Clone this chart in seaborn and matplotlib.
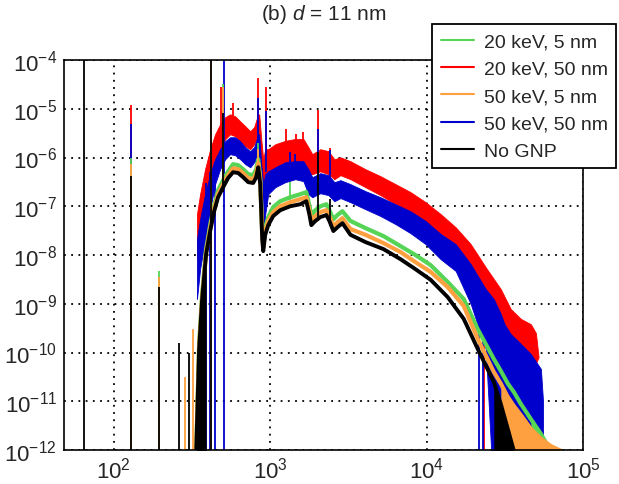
import numpy as np
import matplotlib
matplotlib.use("Agg")
import matplotlib.pyplot as plt
from matplotlib.lines import Line2D
from matplotlib.ticker import FixedLocator, LogLocator, NullFormatter
import seaborn as sns

# ---------- data (energy in eV) ----------

# No GNP (black), narrow line
nognp_e = [330, 351, 367, 389, 413, 438, 464, 500, 538, 579, 624, 671, 723, 778, 813,
           838, 863, 889, 902, 929, 971, 1045, 1159, 1343, 1557, 1701, 1778, 1832, 1944,
           2092, 2286, 2389, 2534, 2689, 2894, 3258, 4064, 5302, 6813, 8502, 10610,
           13630, 17270, 21230, 26880, 29810, 33050, 36120, 37500]
nognp_y = [1e-13, 1.18e-10, 1.25e-9, 1.04e-8, 3.1e-8, 7.9e-8, 1.53e-7, 2.46e-7, 3.8e-7,
           5.0e-7, 4.8e-7, 3.94e-7, 3.12e-7, 3.0e-7, 3.94e-7, 6.3e-7, 2.84e-7, 2.1e-8,
           1.2e-8, 2.6e-8, 4.1e-8, 6.3e-8, 8.3e-8, 1.0e-7, 1.1e-7, 1.27e-7, 6.9e-8, 4.1e-8,
           5.0e-8, 6.0e-8, 6.6e-8, 5.0e-8, 3.1e-8, 3.7e-8, 4.5e-8, 2.6e-8, 1.84e-8, 1.32e-8,
           8.2e-9, 5.1e-9, 3.1e-9, 1.37e-9, 4.9e-10, 1.18e-10, 2.5e-11, 8.8e-12, 2.7e-12,
           9.6e-13, 1e-13]

# 20 keV, 5 nm (green)
g20_e = [330, 351, 367, 389, 413, 438, 464, 500, 538, 579, 624, 671, 723, 778, 813,
         838, 863, 889, 902, 929, 971, 1045, 1159, 1343, 1557, 1701, 1778, 1832, 1944,
         2092, 2286, 2389, 2534, 2689, 2894, 3258, 4064, 5302, 6813, 8502, 10610,
         13630, 17270, 21230, 26880, 29810, 33050, 36120, 40060, 46420, 53800, 59650, 63000]
g20_y = [1e-13, 1.5e-10, 1.58e-9, 1.32e-8, 4.1e-8, 1.05e-7, 2.14e-7, 3.43e-7, 5.2e-7,
         7.3e-7, 6.95e-7, 5.75e-7, 4.55e-7, 4.34e-7, 5.75e-7, 9.2e-7, 3.94e-7, 3.1e-8,
         1.67e-8, 3.7e-8, 6.0e-8, 9.6e-8, 1.27e-7, 1.53e-7, 1.77e-7, 1.95e-7, 1.05e-7,
         6.6e-8, 8.3e-8, 1.0e-7, 1.1e-7, 8.3e-8, 5.4e-8, 6.6e-8, 7.9e-8, 5.0e-8, 3.56e-8,
         2.44e-8, 1.52e-8, 9.95e-9, 6.2e-9, 2.8e-9, 1.25e-9, 3.0e-10, 7.4e-11, 4.2e-11,
         2.3e-11, 1.55e-11, 8.8e-12, 4.3e-12, 2.14e-12, 1.2e-12, 1e-13]

# 50 keV, 5 nm (orange)
o50_e = [330, 351, 367, 389, 413, 438, 464, 500, 538, 579, 624, 671, 723, 778, 813,
         838, 863, 889, 902, 929, 971, 1045, 1159, 1343, 1557, 1701, 1778, 1832, 1944,
         2092, 2286, 2389, 2534, 2689, 2894, 3258, 4064, 5302, 6813, 8502, 10610,
         13630, 17270, 21230, 26880, 29810, 33050, 36120, 40060, 46420, 53800, 62370,
         72270, 76000]
o50_y = [1e-13, 1.3e-10, 1.37e-9, 1.15e-8, 3.56e-8, 9.1e-8, 1.77e-7, 2.84e-7, 4.34e-7,
         6.0e-7, 5.75e-7, 4.77e-7, 3.77e-7, 3.59e-7, 4.77e-7, 7.6e-7, 3.43e-7, 2.6e-8,
         1.38e-8, 3.1e-8, 5.0e-8, 7.6e-8, 1.0e-7, 1.21e-7, 1.40e-7, 1.53e-7, 8.3e-8, 5.2e-8,
         6.3e-8, 7.6e-8, 8.3e-8, 6.3e-8, 3.9e-8, 4.7e-8, 5.7e-8, 3.4e-8, 2.6e-8, 1.75e-8,
         1.15e-8, 7.1e-9, 4.5e-9, 2.2e-9, 9.0e-10, 1.9e-10, 4.0e-11, 2.3e-11, 1.22e-11,
         8.0e-12, 5.2e-12, 2.7e-12, 1.7e-12, 1.2e-12, 9.6e-13, 1e-13]

# 20 keV, 50 nm (red): noisy band, upper and lower edge
r20_e = [340, 356, 383, 413, 444, 478, 515, 554, 597, 643, 692, 745, 789, 826, 850, 876,
         902, 929, 971, 1077, 1248, 1446, 1629, 1753, 1858, 2092, 2355, 2573, 2812, 3258,
         4064, 5070, 6327, 7889, 9855, 12300, 15350, 19140, 23880, 29780, 34510, 40060,
         46420, 50000, 52000]
r20_hi = [6.9e-8, 1.77e-7, 5.75e-7, 1.48e-6, 3.0e-6, 4.8e-6, 6.7e-6, 7.7e-6, 7.0e-6,
          5.5e-6, 4.4e-6, 3.46e-6, 4.2e-6, 6.7e-6, 7.7e-6, 2.37e-6, 9.2e-7, 1.48e-6,
          1.48e-6, 1.87e-6, 2.2e-6, 2.4e-6, 2.4e-6, 1.63e-6, 1.17e-6, 1.48e-6, 1.35e-6,
          9.2e-7, 1.01e-6, 8.4e-7, 5.75e-7, 4.14e-7, 2.84e-7, 1.95e-7, 1.21e-7, 6.9e-8,
          3.7e-8, 1.67e-8, 5.6e-9, 2.0e-9, 7.8e-10, 4.9e-10, 3.8e-10, 2.5e-10, 8e-11]
r20_lo = [8.2e-9, 2.1e-8, 6.9e-8, 2.24e-7, 7.3e-7, 1.48e-6, 2.37e-6, 3.0e-6, 2.73e-6,
          2.16e-6, 1.7e-6, 1.48e-6, 1.87e-6, 2.6e-6, 1.87e-6, 2.24e-7, 3.4e-8, 1.40e-7,
          4.55e-7, 6.3e-7, 7.5e-7, 8.0e-7, 8.0e-7, 4.55e-7, 4.55e-7, 5.2e-7, 4.55e-7,
          3.59e-7, 4.34e-7, 3.59e-7, 2.46e-7, 1.69e-7, 1.10e-7, 7.6e-8, 4.3e-8, 2.44e-8,
          1.2e-8, 4.1e-9, 1.25e-9, 3.8e-10, 1.18e-10, 3.5e-11, 3.0e-11, 6e-11, 8e-11]

# 50 keV, 50 nm (blue): noisy band, upper and lower edge
b50_e = [340, 356, 383, 413, 444, 478, 515, 554, 597, 643, 692, 745, 789, 826, 850, 876,
         902, 929, 971, 1077, 1248, 1446, 1629, 1753, 1858, 2092, 2355, 2573, 2812, 3258,
         4064, 5070, 6327, 7889, 9855, 12300, 15350, 19140, 23880, 26880, 29780, 31500,
         34510, 40060, 46420, 53800, 55500]
b50_hi = [2.1e-8, 5.4e-8, 1.77e-7, 4.55e-7, 9.2e-7, 1.48e-6, 2.16e-6, 2.6e-6, 2.6e-6,
          2.16e-6, 1.63e-6, 1.35e-6, 1.63e-6, 2.6e-6, 3.0e-6, 7.3e-7, 2.84e-7, 4.55e-7,
          5.2e-7, 6.3e-7, 8.0e-7, 8.4e-7, 8.4e-7, 5.75e-7, 3.94e-7, 4.77e-7, 4.34e-7,
          3.12e-7, 3.43e-7, 2.84e-7, 2.04e-7, 1.53e-7, 1.10e-7, 7.9e-8, 5.0e-8, 2.7e-8,
          1.67e-8, 6.5e-9, 2.0e-9, 1.25e-9, 6.2e-10, 3.8e-10, 2.4e-10, 1.5e-10, 9.3e-11,
          4.6e-11, 1e-11]
b50_lo = [1.25e-9, 5.1e-9, 2.1e-8, 8.7e-8, 2.84e-7, 5.75e-7, 9.2e-7, 1.17e-6, 1.11e-6,
          9.2e-7, 7.3e-7, 6.3e-7, 8.0e-7, 9.2e-7, 5.75e-7, 6.9e-8, 1.67e-8, 6.9e-8,
          1.77e-7, 2.46e-7, 3.12e-7, 3.59e-7, 3.27e-7, 1.77e-7, 1.53e-7, 1.85e-7, 1.69e-7,
          1.27e-7, 1.47e-7, 1.21e-7, 8.7e-8, 6.3e-8, 4.3e-8, 2.8e-8, 1.67e-8, 8.2e-9,
          4.7e-9, 9.9e-10, 1.18e-10, 1e-13, 1e-13, 1e-13, 4.3e-12, 1.7e-12, 9.6e-13,
          9.6e-13, 9.6e-13]

# single-bin spikes: energy, bottom and top of the bin
r20_spike_e = [128.5, 485, 579, 838, 943, 1268, 1468, 1629, 2030, 2427, 23200, 45100]
r20_spike_bot = [1e-13, 1e-6, 5e-6, 5e-6, 1e-6, 1.5e-6, 1.5e-6, 1.5e-6, 1e-6, 8e-7,
                 1e-13, 1e-13]
r20_spike_top = [1.2e-5, 2.75e-5, 1.3e-5, 4.2e-5, 2.75e-5, 3.8e-6, 3.0e-6, 3.3e-6,
                 9.3e-6, 1.6e-6, 5e-9, 3e-10]
b50_spike_e = [128.5, 389, 413, 444, 507, 838, 943, 1343, 1446, 2030, 2427, 21600, 23000]
b50_spike_bot = [1e-13, 1e-13, 1e-13, 1e-13, 1e-13, 2e-6, 5e-7, 6e-7, 6e-7, 3e-7, 2e-7,
                 1e-13, 1e-13]
b50_spike_top = [4.8e-6, 3e-7, 5e-7, 8e-7, 2e-4, 1.7e-5, 8.9e-6, 1.3e-6, 1.2e-6,
                 3.8e-6, 1.4e-6, 3e-9, 2e-9]
g20_spike_e = [128.5, 194, 500, 838, 1343]
g20_spike_bot = [1e-13, 1e-13, 5e-7, 5e-7, 1e-7]
g20_spike_top = [1.0e-6, 4.7e-9, 3.2e-5, 2e-6, 3.1e-7]
o50_spike_e = [128.5, 194, 285, 321, 419, 500, 838]
o50_spike_bot = [1e-13, 1e-13, 1e-13, 1e-13, 1e-13, 3e-7, 4e-7]
o50_spike_top = [7.3e-7, 3.5e-9, 3.2e-11, 3.0e-10, 2e-4, 2.8e-5, 1.5e-6]
nognp_spike_e = [64.2, 128.5, 194, 261, 303, 419, 500, 2030, 2427]
nognp_spike_bot = [1e-13, 1e-13, 1e-13, 1e-13, 1e-13, 1e-13, 2e-7, 5e-8, 4e-8]
nognp_spike_top = [2e-4, 4.1e-7, 2.2e-9, 1.6e-10, 1.0e-10, 2e-4, 8e-6, 1.3e-6, 1.4e-7]

# energy ranges where empty/noisy bins fill the area under a curve
nognp_fill = [(330, 395), (25500, 37500)]
g20_fill = [(46000, 63000)]
o50_fill = [(27000, 76000)]

labels = ["20 keV, 5 nm", "20 keV, 50 nm", "50 keV, 5 nm", "50 keV, 50 nm", "No GNP"]
colors = {"g20": "#55d455", "r20": "#ff0000", "o50": "#ffa040", "b50": "#0000cc",
          "nognp": "#000000"}
x_ticks = [1e2, 1e3, 1e4, 1e5]
y_ticks = [1e-12, 1e-11, 1e-10, 1e-9, 1e-8, 1e-7, 1e-6, 1e-5, 1e-4]

FLOOR = 1e-13

# ---------- figure ----------
sns.set_style("white")
plt.rcParams["font.family"] = ["Liberation Sans", "DejaVu Sans"]
plt.rcParams["mathtext.fontset"] = "custom"
plt.rcParams["mathtext.rm"] = "Liberation Sans"
plt.rcParams["mathtext.it"] = "Liberation Sans:italic"

W, H = 619, 485
fig = plt.figure(figsize=(W / 100, H / 100), dpi=100)
ax = fig.add_axes([64 / W, 1 - 451 / H, (583 - 64) / W, (451 - 61) / H])
ax.set_xscale("log")
ax.set_yscale("log")


def spikes(e, bot, top, color, z):
    ax.vlines(e, bot, top, color=color, lw=1.3, zorder=z)


def under_fill(e, y, ranges, color, z):
    e = np.asarray(e)
    y = np.asarray(y)
    for a, b in ranges:
        m = (e >= a) & (e <= b)
        ax.fill_between(e[m], FLOOR, y[m], color=color, lw=0, zorder=z)


# draw order as in the original: red, blue, green, orange, black
ax.fill_between(r20_e, r20_lo, r20_hi, color=colors["r20"], lw=0.6, zorder=2.0)
spikes(r20_spike_e, r20_spike_bot, r20_spike_top, colors["r20"], 2.0)

ax.fill_between(b50_e, b50_lo, b50_hi, color=colors["b50"], lw=0.6, zorder=2.1)
spikes(b50_spike_e, b50_spike_bot, b50_spike_top, colors["b50"], 2.1)

sns.lineplot(x=g20_e, y=g20_y, color=colors["g20"], lw=3.0, estimator=None, sort=False,
             ax=ax, zorder=2.2)
under_fill(g20_e, g20_y, g20_fill, colors["g20"], 2.2)
spikes(g20_spike_e, g20_spike_bot, g20_spike_top, colors["g20"], 2.2)

sns.lineplot(x=o50_e, y=o50_y, color=colors["o50"], lw=3.0, estimator=None, sort=False,
             ax=ax, zorder=2.3)
under_fill(o50_e, o50_y, o50_fill, colors["o50"], 2.3)
spikes(o50_spike_e, o50_spike_bot, o50_spike_top, colors["o50"], 2.3)

sns.lineplot(x=nognp_e, y=nognp_y, color=colors["nognp"], lw=2.8, estimator=None,
             sort=False, ax=ax, zorder=2.4)
under_fill(nognp_e, nognp_y, nognp_fill, colors["nognp"], 2.4)
spikes(nognp_spike_e, nognp_spike_bot, nognp_spike_top, colors["nognp"], 2.4)

ax.set_xlim(48, 1e5)
ax.set_ylim(1e-12, 1e-4)

# ROOT-like axes
ax.grid(True, which="major", color="black", ls=(0, (1, 3)), lw=1.3, zorder=1)
ax.set_axisbelow(True)
ax.xaxis.set_major_locator(FixedLocator(x_ticks))
ax.xaxis.set_minor_locator(LogLocator(base=10, subs=np.arange(2, 10), numticks=50))
ax.xaxis.set_minor_formatter(NullFormatter())
ax.yaxis.set_major_locator(FixedLocator(y_ticks))
ax.yaxis.set_minor_locator(LogLocator(base=10, subs=np.arange(2, 10), numticks=50))
ax.yaxis.set_minor_formatter(NullFormatter())
ax.tick_params(which="both", direction="in", top=False, right=False, labelsize=16,
               color="black", width=1.0)
ax.tick_params(which="major", length=7, pad=5)
ax.tick_params(which="minor", length=4)
for s in ax.spines.values():
    s.set_color("black")
    s.set_linewidth(1.2)
ax.set_xlabel("")
ax.set_ylabel("")

fig.text(323.5 / W, 1 - 14 / H, r"(b) $\mathit{d}$ = 11 nm", ha="center", va="center",
         fontsize=15)

handles = [Line2D([], [], color=colors[k], lw=1.5) for k in ["g20", "r20", "o50", "b50", "nognp"]]
leg = fig.legend(handles, labels, loc="upper left", bbox_to_anchor=(432 / W, 1 - 25 / H),
                 frameon=True, fancybox=False, edgecolor="black", framealpha=1,
                 fontsize=14, handlelength=1.7, handletextpad=0.5, labelspacing=0.5,
                 borderpad=0.45, borderaxespad=0)
leg.get_frame().set_linewidth(1.3)

fig.savefig("out.png", dpi=100)
